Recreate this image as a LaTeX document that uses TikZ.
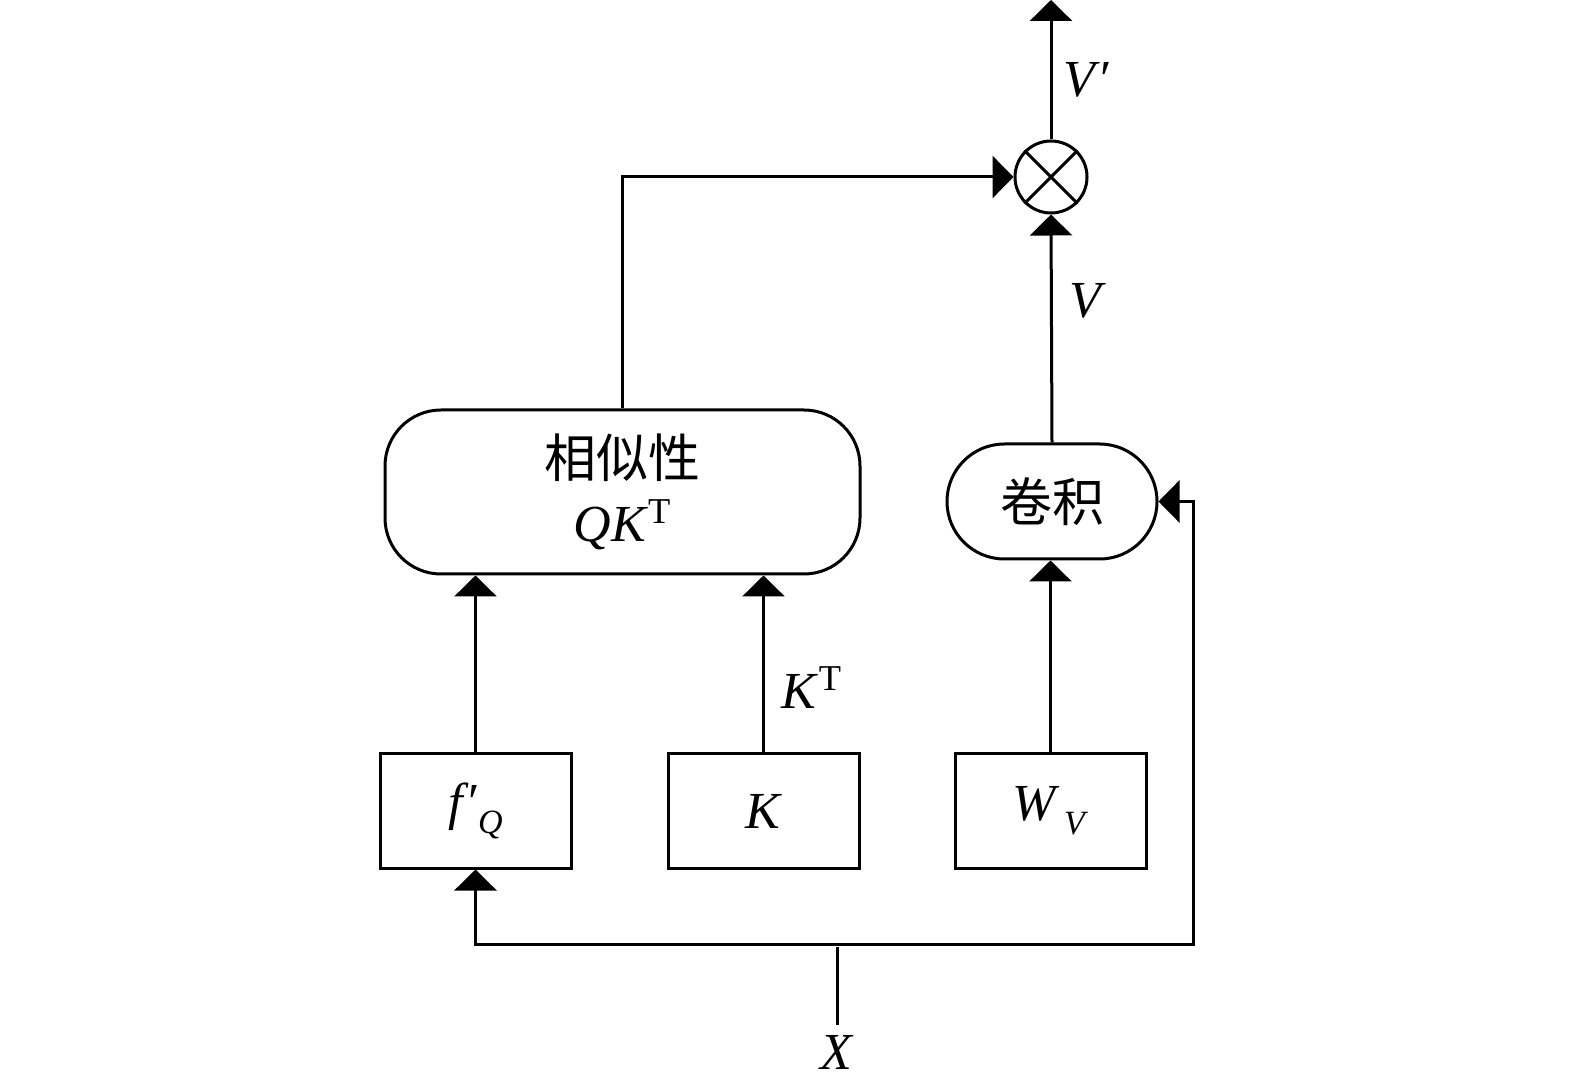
\documentclass[tikz,border=0pt]{standalone}
\usepackage{fontspec}
\setmainfont{Liberation Serif}
\newfontfamily\cjk{Noto Sans CJK SC}
\usetikzlibrary{arrows.meta, positioning}

\begin{document}
\begin{tikzpicture}[
    x=0.5pt, y=-0.5pt,
    opbox/.style = {rectangle, draw, line width=1.5pt, minimum width=95.5pt, minimum height=57pt, inner sep=0pt, font=\fontsize{26}{32}\selectfont},
    simbox/.style = {rectangle, draw, line width=1.5pt, rounded corners=28pt, minimum width=237.5pt, minimum height=82pt, align=center, font=\fontsize{26}{32}\selectfont},
    convbox/.style = {rectangle, draw, line width=1.5pt, rounded corners=28.7pt, minimum width=105pt, minimum height=57.5pt, font=\fontsize{26}{32}\selectfont},
    mulnode/.style = {circle, draw, line width=1.5pt, minimum size=36pt, inner sep=0pt},
    lbl/.style = {inner sep=1pt, font=\fontsize{26}{32}\selectfont},
    arrow/.style = {draw, line width=1.5pt, -{Triangle[length=10.5pt, width=21pt]}},
    plain/.style = {draw, line width=1.5pt}
]
\useasboundingbox (0,0) rectangle (1575,1090);

% Inputs
\node (c_fq) [opbox] at (475.5, 811) {\textit{f}′\kern-1pt\raisebox{-0.55ex}{\fontsize{17}{20}\selectfont\textit{Q}}};
\node (c_k) [opbox] at (763.5, 811) {\textit{K}};
\node (c_wv) [opbox] at (1050.5, 811) {\textit{W}\kern2pt\raisebox{-0.6ex}{\fontsize{17}{20}\selectfont\textit{V}}};

% Similarity
\node (c_sim) [simbox] at (622.5, 492) {{\cjk 相似性}\\\textit{QK}\textsuperscript{T}};

% Convolution
\node (c_conv) [convbox] at (1052, 501.5) {\cjk 卷积};

% Product
\node (c_mul) [mulnode] at (1051, 177) {};
\draw [plain] (c_mul.45) -- (c_mul.225);
\draw [plain] (c_mul.135) -- (c_mul.315);

% Input X
\node (c_x) [lbl] at (837, 1052) {\textit{X}};
\coordinate (c_split) at (837, 944);
\coordinate (c_turn) at (1193, 944);
\coordinate (c_out) at (1051, 0);

% Labels
\node (l_vp) [lbl] at (1088, 80) {\textit{V}′};
\node (l_v) [lbl] at (1088, 301) {\textit{V}};
\node (l_kt) [lbl] at (812, 688) {\textit{K}\textsuperscript{T}};

% Connections
\draw [plain, shorten <=4pt, shorten >=1.5pt] (c_x.north) -- (c_split);
\draw [arrow] (c_split) -| (c_fq.south);
\draw [arrow] (c_split) -- (c_turn) |- (c_conv.east);
\draw [arrow] (c_fq.north) -- (c_fq.north |- c_sim.south);
\draw [arrow] (c_k.north) -- (c_k.north |- c_sim.south);
\draw [arrow] (c_wv.north) -- (c_wv.north |- c_conv.south);
\draw [arrow] (c_sim.north) |- (c_mul.west);
\draw [arrow] (c_conv.north) -- (c_mul.south);
\draw [arrow] (c_mul.north) -- (c_out);

\end{tikzpicture}
\end{document}
